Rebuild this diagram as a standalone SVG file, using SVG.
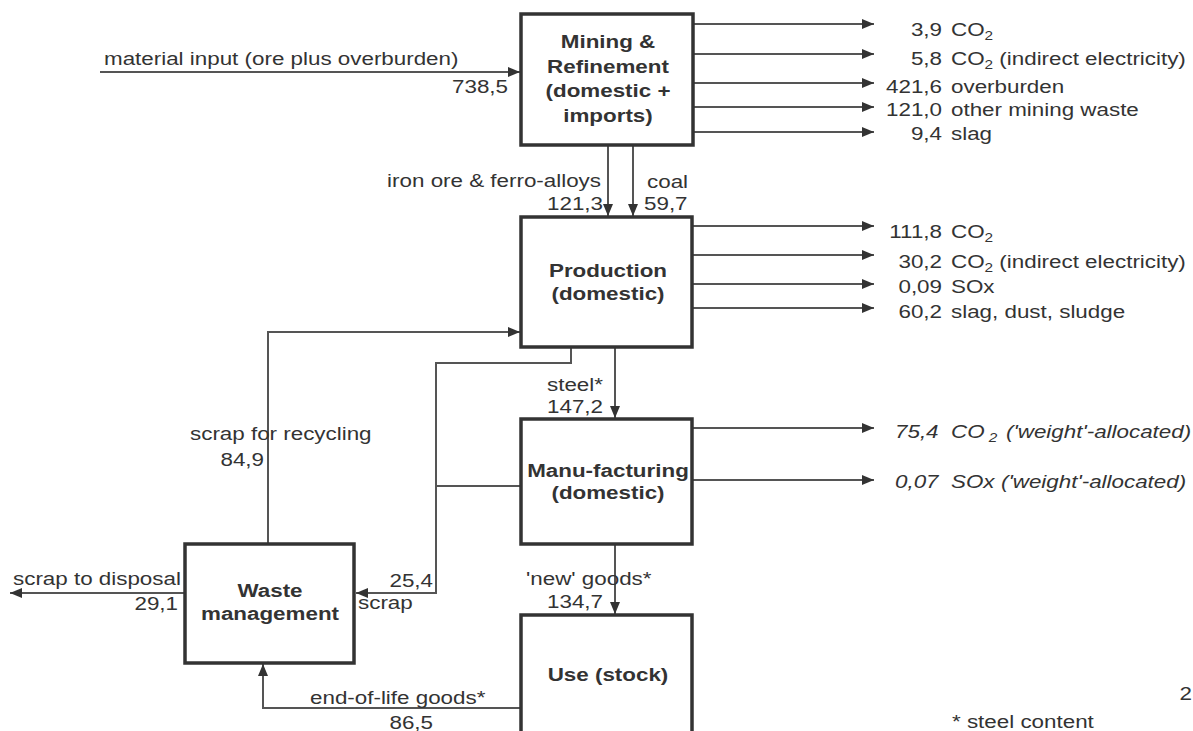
<svg xmlns="http://www.w3.org/2000/svg" width="1193" height="731" viewBox="0 0 1193 731">
<defs>
<style>
.t{font-family:"Liberation Sans",Arial,Helvetica,sans-serif;font-size:17.5px;fill:#333;}
.b{font-weight:bold;}
.i{font-style:italic;}
.box{fill:#fff;stroke:#333;stroke-width:3.5;}
.ln{fill:none;stroke:#555;stroke-width:2;}
.ar{marker-end:url(#ah);}
</style>
<marker id="ah" markerWidth="12" markerHeight="10" refX="12" refY="5" orient="auto" markerUnits="userSpaceOnUse">
<path d="M0,0 L12,5 L0,10 z" fill="#333"/>
</marker>
</defs>
<rect width="1193" height="731" fill="#fff"/>

<g id="connectors">
<path class="ln ar" d="M100,72 H520"/>
<path class="ln ar" d="M694,24 H874"/>
<path class="ln ar" d="M694,54 H874"/>
<path class="ln ar" d="M694,83 H874"/>
<path class="ln ar" d="M694,107 H874"/>
<path class="ln ar" d="M694,132 H874"/>
<path class="ln ar" d="M608,146 V216"/>
<path class="ln ar" d="M633,146 V216"/>
<path class="ln ar" d="M693,226 H874"/>
<path class="ln ar" d="M693,255 H874"/>
<path class="ln ar" d="M693,284 H874"/>
<path class="ln ar" d="M693,308 H874"/>
<path class="ln ar" d="M268,543 V332 H520"/>
<path class="ln ar" d="M571,348 V363 H436 V593 H356"/>
<path class="ln" d="M436,486 H520"/>
<path class="ln ar" d="M615,348 V418"/>
<path class="ln ar" d="M693,428 H874"/>
<path class="ln ar" d="M693,480 H874"/>
<path class="ln ar" d="M615,545 V614"/>
<path class="ln ar" d="M520,708 H263 V664"/>
<path class="ln ar" d="M184,593 H10"/>
</g>

<g id="mining">
<rect class="box" x="521" y="14" width="172" height="131"/>
<text class="t b" text-anchor="middle" transform="translate(608,48) scale(1.28,1)">Mining &amp;</text>
<text class="t b" text-anchor="middle" transform="translate(608,73) scale(1.28,1)">Refinement</text>
<text class="t b" text-anchor="middle" transform="translate(608,97) scale(1.28,1)">(domestic +</text>
<text class="t b" text-anchor="middle" transform="translate(608,122) scale(1.28,1)">imports)</text>
</g>

<g id="production">
<rect class="box" x="521" y="217" width="171" height="130"/>
<text class="t b" text-anchor="middle" transform="translate(608,277) scale(1.28,1)">Production</text>
<text class="t b" text-anchor="middle" transform="translate(608,300) scale(1.28,1)">(domestic)</text>
</g>

<g id="manufacturing">
<rect class="box" x="521" y="419" width="171" height="125"/>
<text class="t b" text-anchor="middle" transform="translate(608,477) scale(1.28,1)">Manu-facturing</text>
<text class="t b" text-anchor="middle" transform="translate(608,499) scale(1.28,1)">(domestic)</text>
</g>

<g id="use">
<rect class="box" x="521" y="615" width="171" height="135"/>
<text class="t b" text-anchor="middle" transform="translate(608,681) scale(1.28,1)">Use (stock)</text>
</g>

<g id="waste">
<rect class="box" x="185" y="544" width="169" height="119"/>
<text class="t b" text-anchor="middle" transform="translate(270,597) scale(1.28,1)">Waste</text>
<text class="t b" text-anchor="middle" transform="translate(270,620) scale(1.28,1)">management</text>
</g>

<g id="labels">
<text class="t" transform="translate(104,65) scale(1.28,1)">material input (ore plus overburden)</text>
<text class="t" text-anchor="end" transform="translate(508,93) scale(1.28,1)">738,5</text>

<text class="t" text-anchor="end" transform="translate(942,36) scale(1.28,1)">3,9</text>
<text class="t" transform="translate(951,36) scale(1.28,1)">CO<tspan dy="4" font-size="12">2</tspan></text>
<text class="t" text-anchor="end" transform="translate(942,65) scale(1.28,1)">5,8</text>
<text class="t" transform="translate(951,65) scale(1.28,1)">CO<tspan dy="4" font-size="12">2</tspan><tspan dy="-4"> (indirect electricity)</tspan></text>
<text class="t" text-anchor="end" transform="translate(942,93) scale(1.28,1)">421,6</text>
<text class="t" transform="translate(951,93) scale(1.28,1)">overburden</text>
<text class="t" text-anchor="end" transform="translate(942,116) scale(1.28,1)">121,0</text>
<text class="t" transform="translate(951,116) scale(1.28,1)">other mining waste</text>
<text class="t" text-anchor="end" transform="translate(942,140) scale(1.28,1)">9,4</text>
<text class="t" transform="translate(951,140) scale(1.28,1)">slag</text>

<text class="t" text-anchor="end" transform="translate(601,187) scale(1.28,1)">iron ore &amp; ferro-alloys</text>
<text class="t" text-anchor="end" transform="translate(603,210) scale(1.28,1)">121,3</text>
<text class="t" transform="translate(647,188) scale(1.28,1)">coal</text>
<text class="t" transform="translate(644,210) scale(1.28,1)">59,7</text>

<text class="t" text-anchor="end" transform="translate(942,238) scale(1.28,1)">111,8</text>
<text class="t" transform="translate(951,238) scale(1.28,1)">CO<tspan dy="4" font-size="12">2</tspan></text>
<text class="t" text-anchor="end" transform="translate(942,268) scale(1.28,1)">30,2</text>
<text class="t" transform="translate(951,268) scale(1.28,1)">CO<tspan dy="4" font-size="12">2</tspan><tspan dy="-4"> (indirect electricity)</tspan></text>
<text class="t" text-anchor="end" transform="translate(942,293) scale(1.28,1)">0,09</text>
<text class="t" transform="translate(951,293) scale(1.28,1)">SOx</text>
<text class="t" text-anchor="end" transform="translate(942,318) scale(1.28,1)">60,2</text>
<text class="t" transform="translate(951,318) scale(1.28,1)">slag, dust, sludge</text>

<text class="t" transform="translate(190,440) scale(1.28,1)">scrap for recycling</text>
<text class="t" text-anchor="end" transform="translate(264,466) scale(1.28,1)">84,9</text>

<text class="t" text-anchor="end" transform="translate(603,391) scale(1.28,1)">steel*</text>
<text class="t" text-anchor="end" transform="translate(603,413) scale(1.28,1)">147,2</text>

<text class="t i" transform="translate(895,438) scale(1.28,1)">75,4</text>
<text class="t i" transform="translate(951,438) scale(1.28,1)">CO<tspan dy="4" font-size="12"> 2</tspan></text>
<text class="t i" transform="translate(1006,438) scale(1.28,1)">('weight'-allocated)</text>
<text class="t i" transform="translate(895,488) scale(1.28,1)">0,07</text>
<text class="t i" transform="translate(951,488) scale(1.28,1)">SOx</text>
<text class="t i" transform="translate(1001,488) scale(1.28,1)">('weight'-allocated)</text>

<text class="t" transform="translate(526,585) scale(1.28,1)">'new' goods*</text>
<text class="t" text-anchor="end" transform="translate(603,608) scale(1.28,1)">134,7</text>

<text class="t" text-anchor="end" transform="translate(433,587) scale(1.28,1)">25,4</text>
<text class="t" transform="translate(358,609) scale(1.28,1)">scrap</text>

<text class="t" transform="translate(13,585) scale(1.28,1)">scrap to disposal</text>
<text class="t" text-anchor="end" transform="translate(178,610) scale(1.28,1)">29,1</text>

<text class="t" transform="translate(310,704) scale(1.28,1)">end-of-life goods*</text>
<text class="t" text-anchor="end" transform="translate(433,729) scale(1.28,1)">86,5</text>

<text class="t" transform="translate(952,728) scale(1.28,1)">* steel content</text>
<text class="t" text-anchor="end" transform="translate(1192,700) scale(1.28,1)">2</text>
</g>
</svg>
